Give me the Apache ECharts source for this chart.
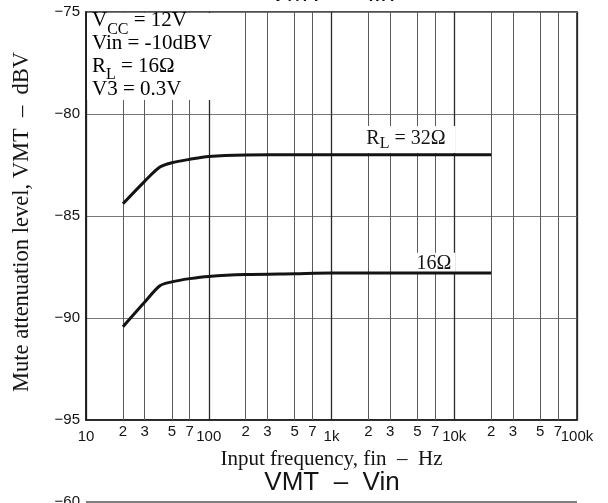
<!DOCTYPE html>
<html>
<head>
<meta charset="utf-8">
<script src="https://cdn.jsdelivr.net/npm/echarts@6/dist/echarts.min.js"></script>
<style>
  html, body { margin: 0; padding: 0; background: #fff; }
  #chart { width: 608px; height: 503px; }
</style>
</head>
<body>
<div id="chart"></div>
<script>
// Frequency axis: decade lines with labels, plus 2/3/5/7 grid lines inside each decade (Hz)
const decadeTicks = [10, 100, 1000, 10000, 100000];
const decadeLabels = ['10', '100', '1k', '10k', '100k'];
const minorTicks = [20, 30, 50, 70, 200, 300, 500, 700, 2000, 3000, 5000, 7000, 20000, 30000, 50000, 70000];
const minorLabels = ['2', '3', '5', '7', '2', '3', '5', '7', '2', '3', '5', '7', '2', '3', '5', '7'];

// Level axis (dBV)
const levelTicks = [-95, -90, -85, -80, -75];

// Mute attenuation level vs input frequency, RL = 32 ohm
const freq32 = [20, 30, 40, 50, 70, 100, 200, 500, 1000, 20000];
const vmt32 = [-84.4, -83.3, -82.6, -82.39, -82.22, -82.08, -82.01, -82.0, -82.0, -82.0];

// Mute attenuation level vs input frequency, RL = 16 ohm
const freq16 = [20, 30, 40, 50, 70, 100, 200, 500, 1000, 20000];
const vmt16 = [-90.43, -89.23, -88.42, -88.23, -88.07, -87.96, -87.87, -87.83, -87.8, -87.8];

// Curve label anchors [Hz, dBV]
const label32At = [4360, -81.25];
const label16At = [6150, -87.32];

const SERIF = '"Liberation Serif", "Times New Roman", serif';
const SANS = '"Liberation Sans", Arial, Helvetica, sans-serif';
const INK = '#141414';

// Rich styles for the curve labels
const richCurve = {
  m: { fontFamily: SERIF, fontSize: 20, lineHeight: 23, color: INK },
  s: { fontFamily: SERIF, fontSize: 16, lineHeight: 23, color: INK, verticalAlign: 'top', padding: [9, 0, 0, 0] },
  n: { fontFamily: SERIF, fontSize: 20, lineHeight: 20, color: INK }
};

// Rich styles for the test-condition box
const richBox = {
  m: { fontFamily: SERIF, fontSize: 21, lineHeight: 22.8, color: INK },
  s: { fontFamily: SERIF, fontSize: 16, lineHeight: 22.8, color: INK, verticalAlign: 'top', padding: [12, 0, 0, 0] }
};

const zip = (xs, ys) => xs.map((x, i) => [x, ys[i]]);
const minus = v => (v < 0 ? '\u2212' + Math.abs(v) : String(v));

const chart = echarts.init(document.getElementById('chart'), null, { renderer: 'canvas' });

chart.setOption({
  animation: false,
  backgroundColor: '#fff',
  grid: {
    left: 86, top: 12, right: 31, bottom: 83,
    show: true, borderColor: '#1a1a1a', borderWidth: 1.5,
    outerBoundsMode: 'none'
  },
  xAxis: {
    type: 'log',
    logBase: 10,
    min: decadeTicks[0],
    max: decadeTicks[decadeTicks.length - 1],
    name: 'Input frequency, fin  \u2013  Hz',
    nameLocation: 'middle',
    nameGap: 27,
    nameTextStyle: { fontFamily: SERIF, fontSize: 21, color: INK },
    axisLine: { show: true, lineStyle: { color: '#1a1a1a', width: 1.5 } },
    axisTick: { show: false },
    axisLabel: {
      margin: 9,
      fontFamily: SANS, fontSize: 15, color: INK,
      formatter: v => {
        const i = decadeTicks.indexOf(Math.round(v));
        return i >= 0 ? decadeLabels[i] : '';
      }
    },
    splitLine: { show: true, lineStyle: { color: '#2a2a2a', width: 1.3 } },
    minorSplitLine: { show: false }
  },
  yAxis: {
    type: 'value',
    min: levelTicks[0],
    max: levelTicks[levelTicks.length - 1],
    interval: 5,
    name: 'Mute attenuation level, VMT  \u2013  dBV',
    nameLocation: 'middle',
    nameRotate: 90,
    nameGap: 52,
    nameTextStyle: { fontFamily: SERIF, fontSize: 22.5, color: INK, padding: [0, 12, 0, 0] },
    axisLine: { show: true, lineStyle: { color: '#1a1a1a', width: 1.5 } },
    axisTick: { show: false },
    axisLabel: { margin: 6, fontFamily: SANS, fontSize: 15, color: INK, formatter: minus },
    splitLine: { show: true, lineStyle: { color: '#777', width: 1 } }
  },
  series: [
    {
      name: 'RL = 32\u03a9',
      type: 'line',
      z: 6,
      data: zip(freq32, vmt32),
      smooth: 0.3,
      showSymbol: false,
      symbol: 'none',
      lineStyle: { color: INK, width: 3 },
      silent: true,
      markPoint: {
        z: 4,
        silent: true,
        symbol: 'rect',
        symbolSize: 0,
        label: {
          show: true,
          position: 'inside',
          backgroundColor: '#fff',
          padding: [1, 10, 3, 2],
          formatter: '{m|R}{s|L}{m| = 32\u03a9}',
          rich: richCurve
        },
        data: [{ coord: label32At }]
      }
    },
    {
      name: '16\u03a9',
      type: 'line',
      z: 6,
      data: zip(freq16, vmt16),
      smooth: 0.3,
      showSymbol: false,
      symbol: 'none',
      lineStyle: { color: INK, width: 3 },
      silent: true,
      markPoint: {
        z: 4,
        silent: true,
        symbol: 'rect',
        symbolSize: 0,
        label: {
          show: true,
          position: 'inside',
          backgroundColor: '#fff',
          padding: [1, 4, 0, 15],
          formatter: '{n|16\u03a9}',
          rich: richCurve
        },
        data: [{ coord: label16At }]
      },
      markLine: {
        z: 1,
        silent: true,
        symbol: ['none', 'none'],
        lineStyle: { color: '#5a5a5a', width: 1, type: 'solid' },
        label: {
          show: true,
          position: 'start',
          distance: 4,
          fontFamily: SANS, fontSize: 15, color: INK,
          formatter: '{b}'
        },
        emphasis: { disabled: true },
        data: minorTicks.map((f, i) => ({ xAxis: f, name: minorLabels[i] }))
      }
    }
  ],
  graphic: [
    // Test-condition box in the upper-left corner of the plot
    {
      type: 'rect', z: 20, silent: true,
      shape: { x: 87, y: 13, width: 129, height: 87 },
      style: { fill: '#fff' }
    },
    {
      type: 'text', z: 21, silent: true,
      x: 92, y: 9.5,
      style: {
        text: '{m|V}{s|CC}{m| = 12V}\n{m|Vin = -10dBV}\n{m|R}{s|L}{m| = 16\u03a9}\n{m|V3 = 0.3V}',
        rich: richBox,
        verticalAlign: 'top', align: 'left'
      }
    },
    // Page context: caption of this figure (clipped) and the next figure's header
    {
      type: 'text', z: 21, silent: true,
      x: 332, y: -6,
      style: { text: 'VMT  \u2013  fin', font: '26px ' + SANS, fill: INK, align: 'center', verticalAlign: 'middle' }
    },
    {
      type: 'text', z: 21, silent: true,
      x: 332, y: 483,
      style: { text: 'VMT  \u2013  Vin', font: '26px ' + SANS, fill: INK, align: 'center', verticalAlign: 'middle' }
    },
    {
      type: 'text', z: 21, silent: true,
      x: 80, y: 502,
      style: { text: '\u221260', font: '15px ' + SANS, fill: INK, align: 'right', verticalAlign: 'middle' }
    },
    {
      type: 'line', z: 21, silent: true,
      shape: { x1: 86, y1: 502, x2: 577, y2: 502 },
      style: { stroke: '#555', lineWidth: 1.5 }
    }
  ]
});
</script>
</body>
</html>
